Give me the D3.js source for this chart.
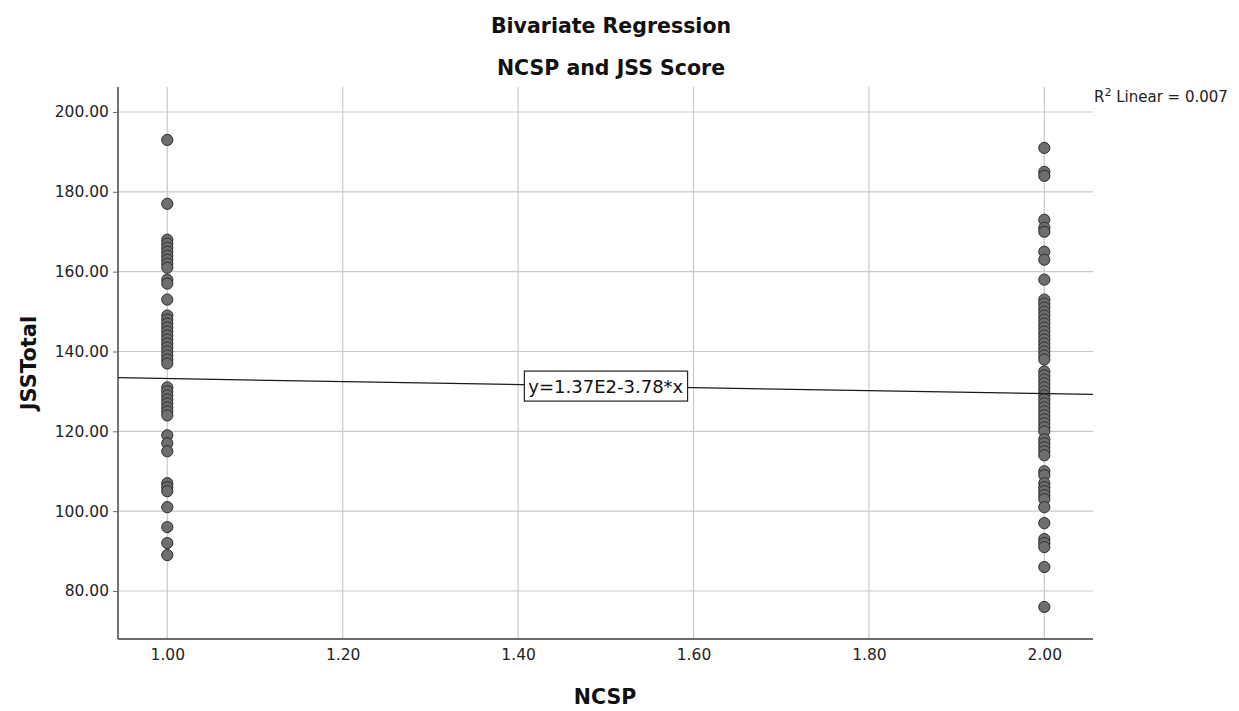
<!DOCTYPE html>
<html>
<head>
<meta charset="utf-8">
<script src="https://cdn.jsdelivr.net/npm/d3@7/dist/d3.min.js"></script>
<style>
  html, body { margin: 0; padding: 0; background: #ffffff; }
  svg { display: block; font-family: "DejaVu Sans", "Lato", sans-serif; }
</style>
</head>
<body>
<svg id="chart" width="1239" height="711"></svg>
<script>
// JSS totals observed in each NCSP group
const groups = [1, 2];
const jssGroup1 = [193, 177, 168, 167, 166, 165, 164, 163, 162, 161, 158, 157, 153,
  149, 148, 147, 146, 145, 144, 143, 142, 141, 140, 139, 138, 137,
  131, 130, 129, 128, 127, 126, 125, 124, 119, 117, 115,
  107, 106, 105, 101, 96, 92, 89];
const jssGroup2 = [191, 185, 184, 173, 171, 170, 165, 163, 158, 153,
  152, 151, 150, 149, 148, 147, 146, 145, 144, 143, 142, 141, 140, 139, 138,
  135, 134, 133, 132, 131, 130, 129, 128, 127, 126, 125, 124, 123, 122, 121, 120,
  118, 117, 116, 115, 114, 110, 109, 107, 106, 105, 104, 103, 101, 97,
  93, 92, 91, 86, 76];

// Fitted line: y = 1.37E2 - 3.78*x, R² = 0.007
const intercept = 137;
const slope = -3.78;
const rSquared = "0.007";

const xTicks = [1.0, 1.2, 1.4, 1.6, 1.8, 2.0];
const yTicks = [80, 100, 120, 140, 160, 180, 200];

const titleLines = ["Bivariate Regression", "NCSP and JSS Score"];
const xTitle = "NCSP";
const yTitle = "JSSTotal";

const points = [
  ...jssGroup1.map(v => ({ x: groups[0], y: v })),
  ...jssGroup2.map(v => ({ x: groups[1], y: v }))
];

const svg = d3.select("#chart");
const plot = { left: 118, right: 1093, top: 87, bottom: 639 };

const x = d3.scaleLinear().domain([0.9438, 2.0555]).range([plot.left, plot.right]);
const y = d3.scaleLinear().domain([67.97, 206.26]).range([plot.bottom, plot.top]);

// grid
const grid = svg.append("g").attr("stroke", "#c9c9c9").attr("stroke-width", 1.2);
grid.selectAll("line.h").data(yTicks).join("line")
  .attr("x1", plot.left).attr("x2", plot.right)
  .attr("y1", d => y(d)).attr("y2", d => y(d));
grid.selectAll("line.v").data(xTicks).join("line")
  .attr("y1", plot.top).attr("y2", plot.bottom)
  .attr("x1", d => x(d)).attr("x2", d => x(d));

// axes
const yAxis = svg.append("g")
  .attr("transform", `translate(${plot.left},0)`)
  .call(d3.axisLeft(y).tickValues(yTicks).tickFormat(d3.format(".2f")).tickSize(5).tickPadding(4));
const xAxis = svg.append("g")
  .attr("transform", `translate(0,${plot.bottom})`)
  .call(d3.axisBottom(x).tickValues(xTicks).tickFormat(d3.format(".2f")).tickSize(0).tickPadding(10));

[yAxis, xAxis].forEach(a => {
  a.select(".domain").attr("stroke", "#3a3a3a").attr("stroke-width", 1.4);
  a.selectAll(".tick line").attr("stroke", "#6a6a6a");
  a.selectAll(".tick text")
    .attr("font-family", "DejaVu Sans, sans-serif")
    .attr("font-size", 15.5)
    .attr("fill", "#222");
});
yAxis.select(".domain").attr("d", `M0,${plot.top}V${plot.bottom}`);
xAxis.select(".domain").attr("d", `M${plot.left},0H${plot.right}`);

// points
svg.append("g").selectAll("circle").data(points).join("circle")
  .attr("cx", d => x(d.x))
  .attr("cy", d => y(d.y))
  .attr("r", 5.6)
  .attr("fill", "#6e6e6e")
  .attr("stroke", "#2b2b2b")
  .attr("stroke-width", 1);

// regression line across the plot
const [x0, x1] = x.domain();
svg.append("line")
  .attr("x1", x(x0)).attr("y1", y(intercept + slope * x0))
  .attr("x2", x(x1)).attr("y2", y(intercept + slope * x1))
  .attr("stroke", "#1a1a1a").attr("stroke-width", 1.2);

// equation label on the line
const midX = 1.5;
const eq = svg.append("g")
  .attr("transform", `translate(${x(midX)},${y(intercept + slope * midX)})`);
const eqText = eq.append("text")
  .attr("text-anchor", "middle")
  .attr("dy", "0.36em")
  .attr("font-size", 18)
  .attr("fill", "#111")
  .text(`y=${(intercept / 100).toFixed(2)}E2${slope < 0 ? "-" : "+"}${Math.abs(slope).toFixed(2)}*x`);
const bb = eqText.node().getBBox();
eq.insert("rect", "text")
  .attr("x", bb.x - 4).attr("y", -15)
  .attr("width", bb.width + 8).attr("height", 30)
  .attr("fill", "#fff").attr("stroke", "#222").attr("stroke-width", 1.2);

// R² annotation
const r2 = svg.append("text")
  .attr("x", 1094).attr("y", 102)
  .attr("font-size", 15)
  .attr("fill", "#222");
r2.append("tspan").text("R");
r2.append("tspan").attr("dy", -6).attr("font-size", 11).text("2");
r2.append("tspan").attr("dy", 6).text(` Linear = ${rSquared}`);

// titles
svg.selectAll("text.title").data(titleLines).join("text")
  .attr("class", "title")
  .attr("x", 611)
  .attr("y", (d, i) => 33 + i * 42)
  .attr("text-anchor", "middle")
  .attr("font-weight", "bold")
  .attr("font-size", 20.5)
  .attr("fill", "#111")
  .text(d => d);

svg.append("text")
  .attr("x", 605).attr("y", 704)
  .attr("text-anchor", "middle")
  .attr("font-weight", "bold")
  .attr("font-size", 20.5)
  .attr("fill", "#111")
  .text(xTitle);

svg.append("text")
  .attr("transform", "translate(36,363) rotate(-90)")
  .attr("text-anchor", "middle")
  .attr("font-weight", "bold")
  .attr("font-size", 21)
  .attr("fill", "#111")
  .text(yTitle);
</script>
</body>
</html>
